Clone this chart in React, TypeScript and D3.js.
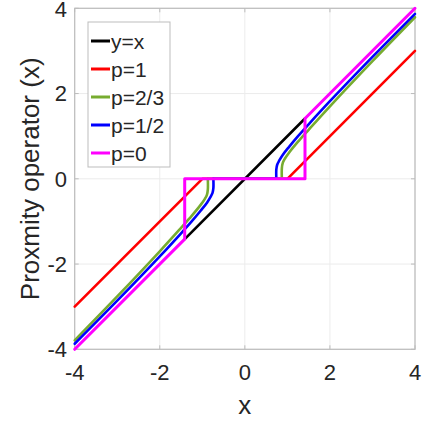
import React from "react";
import * as d3 from "d3";

const ticks = [-4, -2, 0, 2, 4];
const tickLabels = ["-4", "-2", "0", "2", "4"];

const idX = [-1.414, 1.414];
const idY = [-1.414, 1.414];

const p1X = [-4, -1, 1, 4];
const p1Y = [-3, 0, 0, 3];

// p=2/3: negative branch, zero segment, positive branch
const p23NegX = [-4, -3, -2, -1.5, -1.25, -1.03, -0.94, -0.89, -0.87, -0.87];
const p23NegY = [-3.79, -2.76, -1.7, -1.15, -0.87, -0.6, -0.47, -0.37, -0.25, 0];
const p23ZeroX = [-0.87, 0.87];
const p23ZeroY = [0, 0];
const p23PosX = [0.87, 0.87, 0.89, 0.94, 1.03, 1.25, 1.5, 2, 3, 4];
const p23PosY = [0, 0.25, 0.37, 0.47, 0.6, 0.87, 1.15, 1.7, 2.76, 3.79];

// p=1/2
const p12NegX = [-4, -3, -2, -1.51, -1.25, -1.04, -0.89, -0.81, -0.76, -0.74, -0.74];
const p12NegY = [-3.87, -2.86, -1.82, -1.29, -1.0, -0.75, -0.56, -0.43, -0.33, -0.22, 0];
const p12ZeroX = [-0.74, 0.74];
const p12ZeroY = [0, 0];
const p12PosX = [0.74, 0.74, 0.76, 0.81, 0.89, 1.04, 1.25, 1.51, 2, 3, 4];
const p12PosY = [0, 0.22, 0.33, 0.43, 0.56, 0.75, 1.0, 1.29, 1.82, 2.86, 3.87];

const p0X = [-4, -1.414, -1.414, 1.414, 1.414, 4];
const p0Y = [-4, -1.414, 0, 0, 1.414, 4];

const seriesNames = ["y=x", "p=1", "p=2/3", "p=1/2", "p=0"];
const seriesColors = ["#000000", "#ff0000", "#77ac30", "#0000ff", "#ff00ff"];

export default function App() {
  const x = d3.scaleLinear().domain([-4, 4]).range([74.7, 415]);
  const y = d3.scaleLinear().domain([-4, 4]).range([349.3, 8.3]);

  const smooth = d3.curveCatmullRom.alpha(0.5);
  const series = [
    { parts: [{ xs: idX, ys: idY, curve: d3.curveLinear }] },
    { parts: [{ xs: p1X, ys: p1Y, curve: d3.curveLinear }] },
    {
      parts: [
        { xs: p23NegX, ys: p23NegY, curve: smooth },
        { xs: p23ZeroX, ys: p23ZeroY, curve: d3.curveLinear },
        { xs: p23PosX, ys: p23PosY, curve: smooth },
      ],
    },
    {
      parts: [
        { xs: p12NegX, ys: p12NegY, curve: smooth },
        { xs: p12ZeroX, ys: p12ZeroY, curve: d3.curveLinear },
        { xs: p12PosX, ys: p12PosY, curve: smooth },
      ],
    },
    { parts: [{ xs: p0X, ys: p0Y, curve: d3.curveLinear }] },
  ];

  const makePath = (xs: number[], ys: number[], curve: any) =>
    d3
      .line<number>()
      .x((i) => x(xs[i]))
      .y((i) => y(ys[i]))
      .curve(curve)(xs.map((_, i) => i)) || "";

  const [x0, x1] = x.range();
  const [y0, y1] = y.range();
  const axisColor = "#bcbcbc";
  const textColor = "#262626";
  const font = "'Liberation Sans', Arial, Helvetica, sans-serif";

  const legX = 88, legY = 22, legW = 82, legH = 145;
  const legRow = (i: number) => 41 + i * 28;

  return (
    <svg width={424} height={421} style={{ position: "absolute", left: 0, top: 0, background: "#fff" }} fontFamily={font}>
      <rect x={0} y={0} width={424} height={421} fill="#ffffff" />
      {ticks.map((t) => (
        <g key={"g" + t}>
          <line x1={x(t)} x2={x(t)} y1={y1} y2={y0} stroke="#ececec" strokeWidth={1} />
          <line x1={x0} x2={x1} y1={y(t)} y2={y(t)} stroke="#ececec" strokeWidth={1} />
        </g>
      ))}
      <rect x={x0} y={y1} width={x1 - x0} height={y0 - y1} fill="none" stroke={axisColor} strokeWidth={1.2} />
      {ticks.map((t) => (
        <g key={"t" + t}>
          <line x1={x(t)} x2={x(t)} y1={y0} y2={y0 - 4} stroke={axisColor} />
          <line x1={x(t)} x2={x(t)} y1={y1} y2={y1 + 4} stroke={axisColor} />
          <line x1={x0} x2={x0 + 4} y1={y(t)} y2={y(t)} stroke={axisColor} />
          <line x1={x1} x2={x1 - 4} y1={y(t)} y2={y(t)} stroke={axisColor} />
        </g>
      ))}
      {series.map((s, i) => (
        <g key={"s" + i}>
          {s.parts.map((p, j) => (
            <path
              key={j}
              d={makePath(p.xs, p.ys, p.curve)}
              fill="none"
              stroke={seriesColors[i]}
              strokeWidth={i === 4 ? 3 : 2.6}
              strokeLinejoin="round"
              strokeLinecap="round"
            />
          ))}
        </g>
      ))}
      {ticks.map((t, i) => (
        <text key={"xl" + t} x={x(t)} y={380} textAnchor="middle" fontSize={22} fill={textColor}>
          {tickLabels[i]}
        </text>
      ))}
      {ticks.map((t, i) => (
        <text key={"yl" + t} x={67} y={Math.max(y(t), 9.5)} dy="0.36em" textAnchor="end" fontSize={22} fill={textColor}>
          {tickLabels[i]}
        </text>
      ))}
      <text x={x(0)} y={414} textAnchor="middle" fontSize={26} fill={textColor}>x</text>
      <text
        transform={`translate(39, ${(y0 + y1) / 2}) rotate(-90)`}
        textAnchor="middle"
        fontSize={26}
        fill={textColor}
      >
        Proxmity operator (x)
      </text>
      <rect x={legX} y={legY} width={legW} height={legH} fill="#ffffff" stroke="#bdbdbd" strokeWidth={1} />
      {seriesNames.map((n, i) => (
        <g key={"l" + i}>
          <line x1={91} x2={110} y1={legRow(i)} y2={legRow(i)} stroke={seriesColors[i]} strokeWidth={3} />
          <text x={111} y={legRow(i)} dy="0.36em" fontSize={21} fill={textColor}>
            {n}
          </text>
        </g>
      ))}
    </svg>
  );
}
